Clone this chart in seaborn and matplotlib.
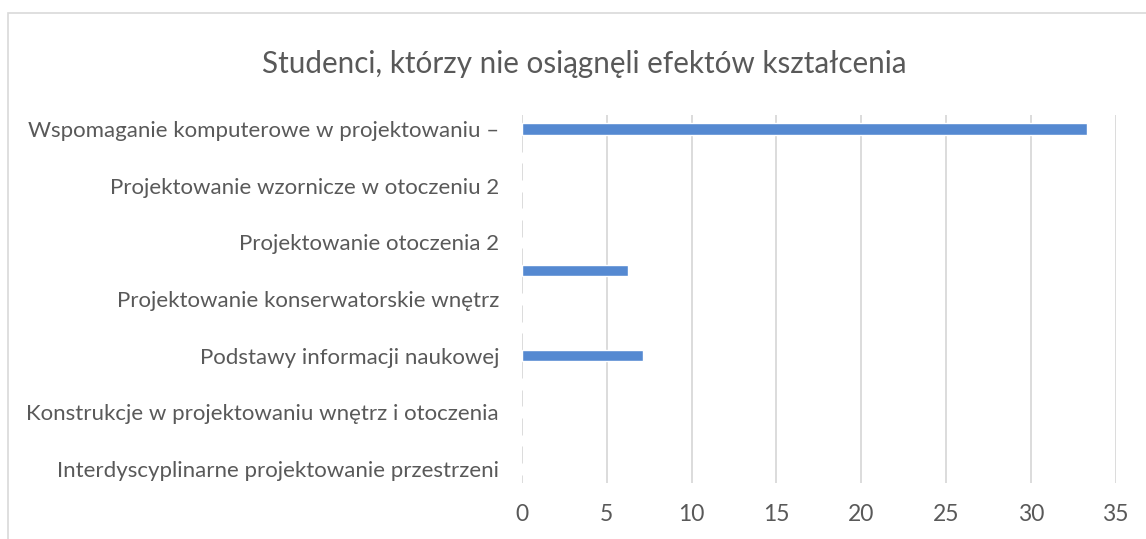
import matplotlib
matplotlib.use("Agg")
import matplotlib.pyplot as plt
import seaborn as sns
import pandas as pd
from matplotlib.patches import Rectangle

# Course names (top to bottom); only every other name fits on the axis
courses = [
    "Wspomaganie komputerowe w projektowaniu –",
    "Przedmiot 2",
    "Projektowanie wzornicze w otoczeniu 2",
    "Przedmiot 4",
    "Projektowanie otoczenia 2",
    "Przedmiot 6",
    "Projektowanie konserwatorskie wnętrz",
    "Przedmiot 8",
    "Podstawy informacji naukowej",
    "Przedmiot 10",
    "Konstrukcje w projektowaniu wnętrz i otoczenia",
    "Przedmiot 12",
    "Interdyscyplinarne projektowanie przestrzeni",
]
# Percentage of students who did not reach the learning outcomes
share = [33.33, 0, 0, 0, 0, 6.25, 0, 0, 7.14, 0, 0, 0, 0]
x_ticks = [0, 5, 10, 15, 20, 25, 30, 35]
title = "Studenci, którzy nie osiągnęli efektów kształcenia"

df = pd.DataFrame({"course": courses, "share": share})

sns.set_theme(style="white")
plt.rcParams["font.family"] = ["Lato", "DejaVu Sans"]

text_color = "#595959"
grid_color = "#D9D9D9"
bar_color = "#5589D1"

fig = plt.figure(figsize=(11.46, 5.39), dpi=100)

# chart-area frame (partly outside the canvas on the right and bottom)
fig.patches.append(Rectangle((8 / 1146, -0.05), 1.2, 1 - 13 / 539 + 0.05,
                             transform=fig.transFigure, fill=False,
                             edgecolor=grid_color, linewidth=1.2))

ax = fig.add_axes([522 / 1146, 1 - 483 / 539, (1115.7 - 522) / 1146, (483 - 115) / 539])

sns.barplot(data=df, x="share", y="course", order=courses, orient="h",
            color=bar_color, saturation=1, width=0.41, ax=ax)

ax.set_xlim(0, 35)
ax.set_ylim(len(courses) - 0.5, -0.5)
ax.set_xticks(x_ticks)
ax.set_xticklabels([str(t) for t in x_ticks])
ax.set_yticks(range(0, len(courses), 2))
ax.set_yticklabels(courses[::2])
ax.set_xlabel("")
ax.set_ylabel("")

ax.xaxis.grid(True, color=grid_color, linewidth=1.3)
ax.yaxis.grid(False)
ax.set_axisbelow(True)
for s in ax.spines.values():
    s.set_visible(False)

ax.tick_params(axis="x", length=0, pad=15, labelsize=16.5, labelcolor=text_color)
ax.tick_params(axis="y", length=0, pad=16.5, labelsize=16, labelcolor=text_color)

fig.text(584 / 1146, 1 - 64 / 539, title, ha="center", va="center",
         fontsize=21.3, color=text_color)

fig.savefig("out.png", dpi=100)
